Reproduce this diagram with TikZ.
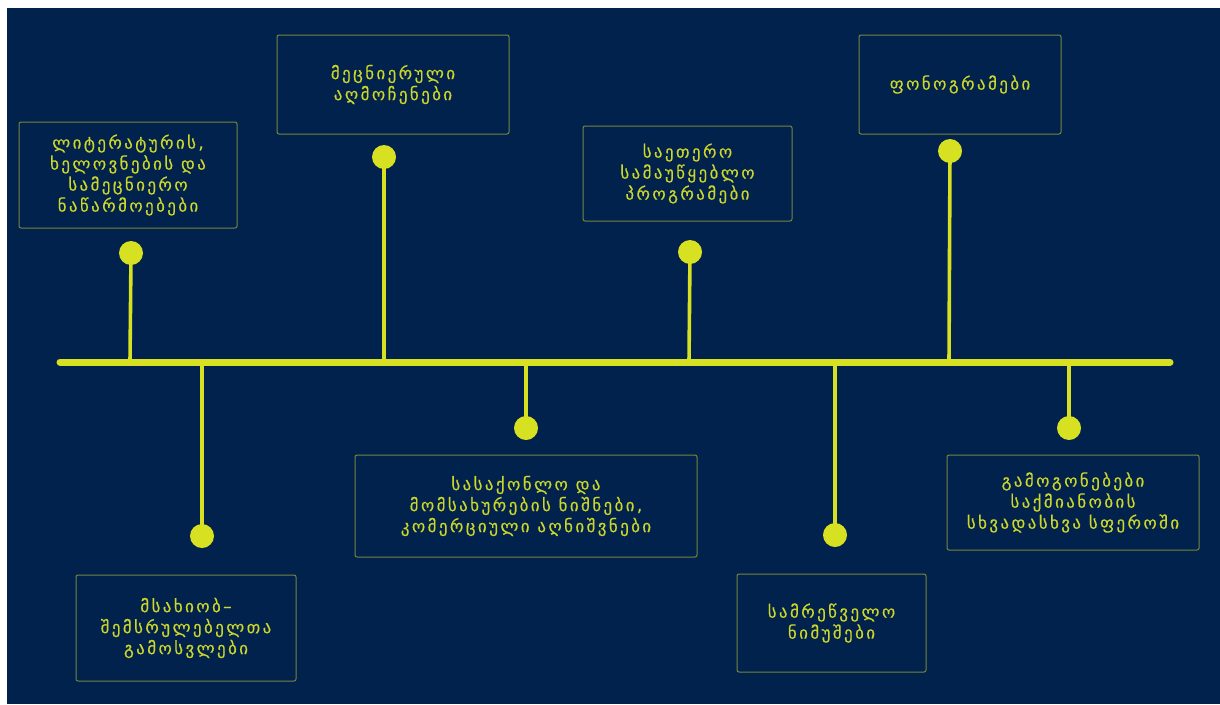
\documentclass[tikz,border=0pt]{standalone}
\usepackage{fontspec}
\newfontfamily\geofont[LetterSpace=14,FakeBold=0.3]{DejaVu Sans}
\definecolor{navy}{HTML}{00224D}
\definecolor{lime}{HTML}{D7E021}
\definecolor{limetext}{HTML}{CDD62A}
\definecolor{olive}{HTML}{76863C}
\tikzset{
  infobox/.style={draw=olive, line width=1pt, rounded corners=2pt,
    text=limetext, align=center, inner sep=0pt,
    font=\geofont\fontsize{17}{21}\selectfont},
  dot/.style={circle, fill=lime, minimum size=24pt, inner sep=0pt},
  stem/.style={draw=lime, line width=3.6pt}
}
\begin{document}
\begin{tikzpicture}[x=1pt, y=-1pt]

        \useasboundingbox (0,0) rectangle (1220,704);
        \fill[white] (0,0) rectangle (1220,704);
        \fill[navy] (7,8) rectangle (1220,704);

        % text boxes
        \begin{scope}[every node/.style={infobox}]
          \node[minimum width=218pt, minimum height=106pt] (1) at (128,175)
            {ლიტერატურის,\\ხელოვნების და\\სამეცნიერო\\ნაწარმოებები};
          \node[minimum width=220pt, minimum height=106pt] (2) at (186,628)
            {მსახიობ–\\შემსრულებელთა\\გამოსვლები};
          \node[minimum width=232pt, minimum height=99pt] (3) at (393,84.5)
            {მეცნიერული\\აღმოჩენები};
          \node[minimum width=342pt, minimum height=102pt] (4) at (526,506)
            {სასაქონლო და\\მომსახურების ნიშნები,\\კომერციული აღნიშვნები};
          \node[minimum width=209pt, minimum height=95pt] (5) at (687.5,173.5)
            {საეთერო\\სამაუწყებლო\\პროგრამები};
          \node[minimum width=189pt, minimum height=98pt] (6) at (831.5,623)
            {სამრეწველო\\ნიმუშები};
          \node[minimum width=202pt, minimum height=99pt] (7) at (960,84.5)
            {ფონოგრამები};
          \node[minimum width=252pt, minimum height=95pt] (8) at (1073,502.5)
            {გამოგონებები\\საქმიანობის\\სხვადასხვა სფეროში};
        \end{scope}

        % dots
        \begin{scope}[every node/.style={dot}]
          \node (d1) at (131,253) {};
          \node (d2) at (202,536) {};
          \node (d3) at (384,157) {};
          \node (d4) at (526,428) {};
          \node (d5) at (690,252) {};
          \node (d6) at (835,535) {};
          \node (d7) at (950,151) {};
          \node (d8) at (1069,428) {};
        \end{scope}

        % points on the time line
        \coordinate (L)  at (60,362);
        \coordinate (R)  at (1170,362);
        \coordinate (b1) at (130,362);
        \coordinate (b2) at (202,362);
        \coordinate (b3) at (384,362);
        \coordinate (b4) at (526,362);
        \coordinate (b5) at (689,362);
        \coordinate (b6) at (835,362);
        \coordinate (b7) at (949,362);
        \coordinate (b8) at (1069,362);

        \begin{scope}[every edge/.style={stem}]
          \path (d1.center) edge (b1);
          \path (d2.center) edge (b2);
          \path (d3.center) edge (b3);
          \path (d4.center) edge (b4);
          \path (d5.center) edge (b5);
          \path (d6.center) edge (b6);
          \path (d7.center) edge (b7);
          \path (d8.center) edge (b8);
        \end{scope}

        \draw[lime, line width=7pt, line cap=round] (L) -- (R);

      \end{tikzpicture}
\end{document}
